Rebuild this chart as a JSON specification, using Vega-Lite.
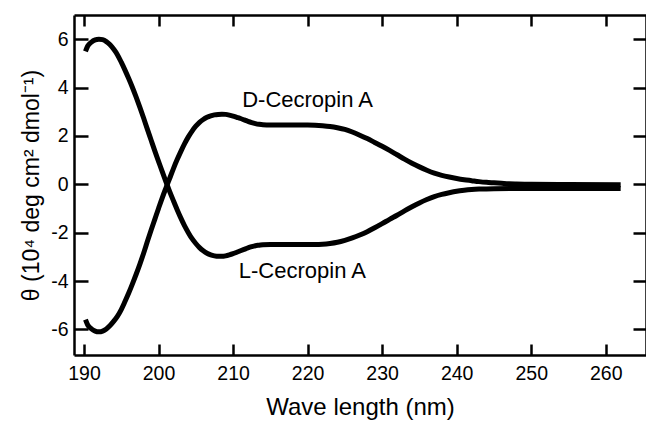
{
  "$schema": "https://vega.github.io/schema/vega-lite/v6.json",
  "width": 572,
  "height": 340,
  "autosize": {"type": "none"},
  "padding": {"left": 74, "top": 15, "right": 0, "bottom": 73},
  "background": "white",
  "config": {
    "view": {"stroke": null},
    "font": "Liberation Sans",
    "axis": {
      "grid": false,
      "domainColor": "black",
      "domainWidth": 2.5,
      "tickColor": "black",
      "tickWidth": 2.5,
      "labelColor": "black",
      "titleColor": "black",
      "labelFont": "Liberation Sans",
      "titleFont": "Liberation Sans",
      "titleFontWeight": "normal"
    }
  },
  "datasets": {
    "curves": [
      {"series": "D", "wl": 190.2, "theta": -5.6},
      {"series": "D", "wl": 190.5, "theta": -5.82},
      {"series": "D", "wl": 191, "theta": -5.98},
      {"series": "D", "wl": 191.5, "theta": -6.07},
      {"series": "D", "wl": 192, "theta": -6.1},
      {"series": "D", "wl": 192.5, "theta": -6.07},
      {"series": "D", "wl": 193, "theta": -5.98},
      {"series": "D", "wl": 193.5, "theta": -5.84},
      {"series": "D", "wl": 194, "theta": -5.66},
      {"series": "D", "wl": 194.5, "theta": -5.45},
      {"series": "D", "wl": 195, "theta": -5.18},
      {"series": "D", "wl": 195.5, "theta": -4.85},
      {"series": "D", "wl": 196, "theta": -4.5},
      {"series": "D", "wl": 196.5, "theta": -4.12},
      {"series": "D", "wl": 197, "theta": -3.72},
      {"series": "D", "wl": 197.5, "theta": -3.3},
      {"series": "D", "wl": 198, "theta": -2.85},
      {"series": "D", "wl": 198.5, "theta": -2.37},
      {"series": "D", "wl": 199, "theta": -1.9},
      {"series": "D", "wl": 199.5, "theta": -1.45},
      {"series": "D", "wl": 200, "theta": -1.0},
      {"series": "D", "wl": 200.5, "theta": -0.56},
      {"series": "D", "wl": 201, "theta": -0.15},
      {"series": "D", "wl": 201.5, "theta": 0.25},
      {"series": "D", "wl": 202, "theta": 0.65},
      {"series": "D", "wl": 202.5, "theta": 1.02},
      {"series": "D", "wl": 203, "theta": 1.36},
      {"series": "D", "wl": 203.5, "theta": 1.68},
      {"series": "D", "wl": 204, "theta": 1.96},
      {"series": "D", "wl": 204.5, "theta": 2.2},
      {"series": "D", "wl": 205, "theta": 2.4},
      {"series": "D", "wl": 205.5, "theta": 2.56},
      {"series": "D", "wl": 206, "theta": 2.68},
      {"series": "D", "wl": 206.5, "theta": 2.77},
      {"series": "D", "wl": 207, "theta": 2.83},
      {"series": "D", "wl": 207.5, "theta": 2.87},
      {"series": "D", "wl": 208, "theta": 2.89},
      {"series": "D", "wl": 208.5, "theta": 2.9},
      {"series": "D", "wl": 209, "theta": 2.89},
      {"series": "D", "wl": 209.5, "theta": 2.86},
      {"series": "D", "wl": 210, "theta": 2.82},
      {"series": "D", "wl": 210.5, "theta": 2.77},
      {"series": "D", "wl": 211, "theta": 2.72},
      {"series": "D", "wl": 211.5, "theta": 2.66},
      {"series": "D", "wl": 212, "theta": 2.6},
      {"series": "D", "wl": 212.5, "theta": 2.55},
      {"series": "D", "wl": 213, "theta": 2.51},
      {"series": "D", "wl": 213.5, "theta": 2.48},
      {"series": "D", "wl": 214, "theta": 2.46},
      {"series": "D", "wl": 215, "theta": 2.45},
      {"series": "D", "wl": 216, "theta": 2.45},
      {"series": "D", "wl": 217, "theta": 2.45},
      {"series": "D", "wl": 218, "theta": 2.45},
      {"series": "D", "wl": 219, "theta": 2.45},
      {"series": "D", "wl": 220, "theta": 2.45},
      {"series": "D", "wl": 221, "theta": 2.44},
      {"series": "D", "wl": 222, "theta": 2.42},
      {"series": "D", "wl": 223, "theta": 2.39},
      {"series": "D", "wl": 224, "theta": 2.34},
      {"series": "D", "wl": 225, "theta": 2.27},
      {"series": "D", "wl": 226, "theta": 2.16},
      {"series": "D", "wl": 227, "theta": 2.03},
      {"series": "D", "wl": 228, "theta": 1.89},
      {"series": "D", "wl": 229, "theta": 1.73},
      {"series": "D", "wl": 230, "theta": 1.57},
      {"series": "D", "wl": 231, "theta": 1.4},
      {"series": "D", "wl": 232, "theta": 1.22},
      {"series": "D", "wl": 233, "theta": 1.04},
      {"series": "D", "wl": 234, "theta": 0.87},
      {"series": "D", "wl": 235, "theta": 0.72},
      {"series": "D", "wl": 236, "theta": 0.58},
      {"series": "D", "wl": 237, "theta": 0.46},
      {"series": "D", "wl": 238, "theta": 0.37},
      {"series": "D", "wl": 239, "theta": 0.3},
      {"series": "D", "wl": 240, "theta": 0.24},
      {"series": "D", "wl": 241, "theta": 0.19},
      {"series": "D", "wl": 242, "theta": 0.15},
      {"series": "D", "wl": 243, "theta": 0.11},
      {"series": "D", "wl": 244, "theta": 0.08},
      {"series": "D", "wl": 245, "theta": 0.06},
      {"series": "D", "wl": 246, "theta": 0.04},
      {"series": "D", "wl": 247, "theta": 0.02},
      {"series": "D", "wl": 248, "theta": 0.01},
      {"series": "D", "wl": 250, "theta": 0.0},
      {"series": "D", "wl": 255, "theta": -0.01},
      {"series": "D", "wl": 262, "theta": -0.02},
      {"series": "L", "wl": 190.2, "theta": 5.5},
      {"series": "L", "wl": 190.5, "theta": 5.72},
      {"series": "L", "wl": 191, "theta": 5.88},
      {"series": "L", "wl": 191.5, "theta": 5.97},
      {"series": "L", "wl": 192, "theta": 6.0},
      {"series": "L", "wl": 192.5, "theta": 5.98},
      {"series": "L", "wl": 193, "theta": 5.9},
      {"series": "L", "wl": 193.5, "theta": 5.77},
      {"series": "L", "wl": 194, "theta": 5.58},
      {"series": "L", "wl": 194.5, "theta": 5.35},
      {"series": "L", "wl": 195, "theta": 5.05},
      {"series": "L", "wl": 195.5, "theta": 4.72},
      {"series": "L", "wl": 196, "theta": 4.37},
      {"series": "L", "wl": 196.5, "theta": 4.0},
      {"series": "L", "wl": 197, "theta": 3.6},
      {"series": "L", "wl": 197.5, "theta": 3.18},
      {"series": "L", "wl": 198, "theta": 2.74},
      {"series": "L", "wl": 198.5, "theta": 2.28},
      {"series": "L", "wl": 199, "theta": 1.83},
      {"series": "L", "wl": 199.5, "theta": 1.38},
      {"series": "L", "wl": 200, "theta": 0.95},
      {"series": "L", "wl": 200.5, "theta": 0.52},
      {"series": "L", "wl": 201, "theta": 0.1},
      {"series": "L", "wl": 201.5, "theta": -0.3},
      {"series": "L", "wl": 202, "theta": -0.68},
      {"series": "L", "wl": 202.5, "theta": -1.05},
      {"series": "L", "wl": 203, "theta": -1.4},
      {"series": "L", "wl": 203.5, "theta": -1.72},
      {"series": "L", "wl": 204, "theta": -2.0},
      {"series": "L", "wl": 204.5, "theta": -2.25},
      {"series": "L", "wl": 205, "theta": -2.45},
      {"series": "L", "wl": 205.5, "theta": -2.62},
      {"series": "L", "wl": 206, "theta": -2.75},
      {"series": "L", "wl": 206.5, "theta": -2.85},
      {"series": "L", "wl": 207, "theta": -2.92},
      {"series": "L", "wl": 207.5, "theta": -2.96},
      {"series": "L", "wl": 208, "theta": -2.98},
      {"series": "L", "wl": 208.5, "theta": -2.98},
      {"series": "L", "wl": 209, "theta": -2.96},
      {"series": "L", "wl": 209.5, "theta": -2.92},
      {"series": "L", "wl": 210, "theta": -2.87},
      {"series": "L", "wl": 210.5, "theta": -2.81},
      {"series": "L", "wl": 211, "theta": -2.75},
      {"series": "L", "wl": 211.5, "theta": -2.69},
      {"series": "L", "wl": 212, "theta": -2.63},
      {"series": "L", "wl": 212.5, "theta": -2.58},
      {"series": "L", "wl": 213, "theta": -2.54},
      {"series": "L", "wl": 213.5, "theta": -2.52},
      {"series": "L", "wl": 214, "theta": -2.5},
      {"series": "L", "wl": 215, "theta": -2.49},
      {"series": "L", "wl": 216, "theta": -2.49},
      {"series": "L", "wl": 217, "theta": -2.49},
      {"series": "L", "wl": 218, "theta": -2.49},
      {"series": "L", "wl": 219, "theta": -2.49},
      {"series": "L", "wl": 220, "theta": -2.49},
      {"series": "L", "wl": 221, "theta": -2.49},
      {"series": "L", "wl": 222, "theta": -2.48},
      {"series": "L", "wl": 223, "theta": -2.45},
      {"series": "L", "wl": 224, "theta": -2.4},
      {"series": "L", "wl": 225, "theta": -2.32},
      {"series": "L", "wl": 226, "theta": -2.22},
      {"series": "L", "wl": 227, "theta": -2.1},
      {"series": "L", "wl": 228, "theta": -1.96},
      {"series": "L", "wl": 229, "theta": -1.8},
      {"series": "L", "wl": 230, "theta": -1.63},
      {"series": "L", "wl": 231, "theta": -1.45},
      {"series": "L", "wl": 232, "theta": -1.28},
      {"series": "L", "wl": 233, "theta": -1.1},
      {"series": "L", "wl": 234, "theta": -0.93},
      {"series": "L", "wl": 235, "theta": -0.77},
      {"series": "L", "wl": 236, "theta": -0.63},
      {"series": "L", "wl": 237, "theta": -0.51},
      {"series": "L", "wl": 238, "theta": -0.42},
      {"series": "L", "wl": 239, "theta": -0.35},
      {"series": "L", "wl": 240, "theta": -0.29},
      {"series": "L", "wl": 241, "theta": -0.25},
      {"series": "L", "wl": 242, "theta": -0.22},
      {"series": "L", "wl": 243, "theta": -0.2},
      {"series": "L", "wl": 245, "theta": -0.18},
      {"series": "L", "wl": 250, "theta": -0.17},
      {"series": "L", "wl": 262, "theta": -0.17}
    ],
    "labels": [
      {"wl": 220.0, "theta": 3.49, "label": "D-Cecropin A"},
      {"wl": 219.3, "theta": -3.6, "label": "L-Cecropin A"}
    ]
  },
  "layer": [
    {
      "data": {"name": "curves"},
      "mark": {"type": "line", "color": "black", "strokeWidth": 5, "interpolate": "monotone", "strokeCap": "butt"},
      "encoding": {
        "x": {
          "field": "wl", "type": "quantitative",
          "scale": {"domain": [188.66, 265.4], "nice": false, "zero": false},
          "axis": {"orient": "bottom", "values": [190, 200, 210, 220, 230, 240, 250, 260], "tickSize": -11, "labelPadding": 20, "labelFontSize": 19.5, "title": "Wave length (nm)", "titleFontSize": 24, "titlePadding": 13}
        },
        "y": {
          "field": "theta", "type": "quantitative",
          "scale": {"domain": [-7.06, 7.0], "nice": false, "zero": false},
          "axis": {"orient": "left", "values": [-6, -4, -2, 0, 2, 4, 6], "labelExpr": "datum.value + ''", "tickSize": -14, "labelPadding": 20, "labelFontSize": 19.5, "title": "θ (10⁴ deg cm² dmol⁻¹)", "titleFontSize": 23, "titlePadding": 7}
        },
        "detail": {"field": "series", "type": "nominal"}
      }
    },
    {
      "data": {"name": "curves"},
      "mark": {"type": "line", "opacity": 0},
      "encoding": {
        "x": {"field": "wl", "type": "quantitative", "axis": {"orient": "top", "values": [190, 200, 210, 220, 230, 240, 250, 260], "tickSize": -11, "labels": false, "title": null}},
        "y": {"field": "theta", "type": "quantitative", "axis": {"orient": "right", "values": [-6, -4, -2, 0, 2, 4, 6], "tickSize": -13, "labels": false, "title": null}},
        "detail": {"field": "series", "type": "nominal"}
      }
    },
    {
      "data": {"name": "labels"},
      "mark": {"type": "text", "font": "Liberation Sans", "fontSize": 22, "color": "black", "align": "center", "baseline": "middle"},
      "encoding": {
        "x": {"field": "wl", "type": "quantitative", "axis": null},
        "y": {"field": "theta", "type": "quantitative", "axis": null},
        "text": {"field": "label"}
      }
    }
  ],
  "resolve": {"axis": {"x": "independent", "y": "independent"}}
}
